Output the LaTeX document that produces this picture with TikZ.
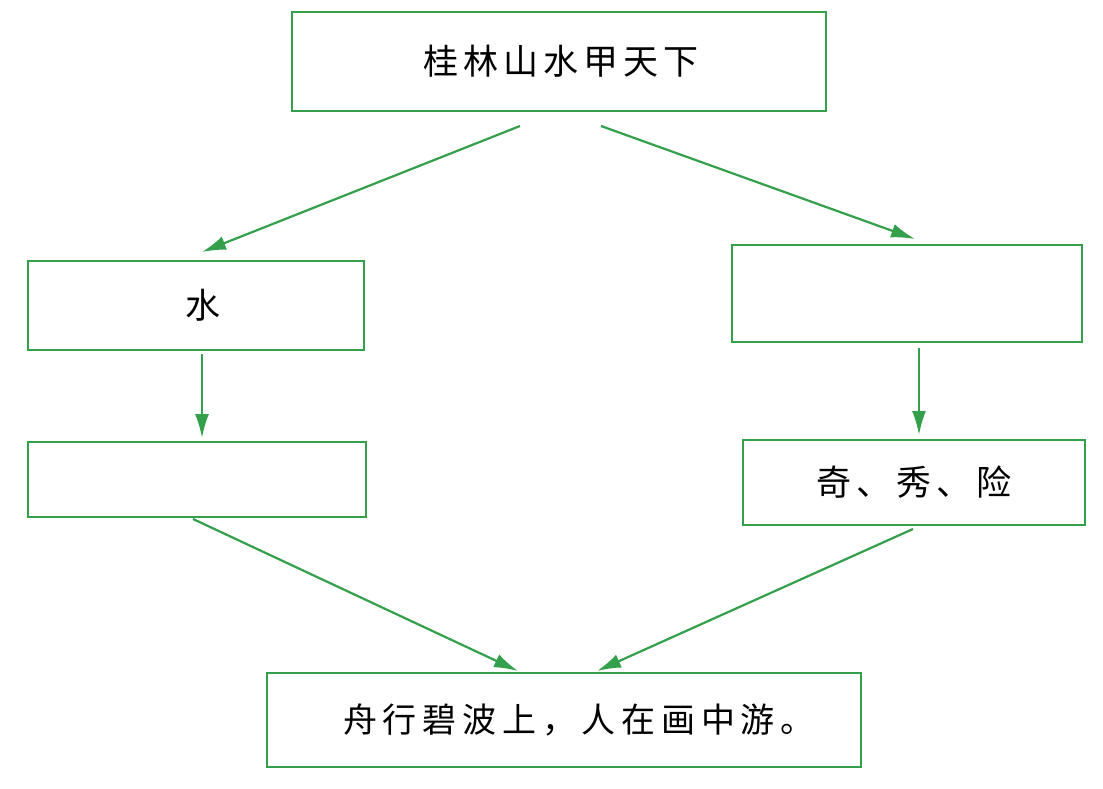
\documentclass[tikz,border=0pt]{standalone}
\usepackage{fontspec}
\newfontfamily\cjk{Noto Sans CJK SC}
\newfontfamily\cjkwide[LetterSpace=14]{Noto Sans CJK SC}
\newfontfamily\cjkwider[LetterSpace=17]{Noto Sans CJK SC}
\usetikzlibrary{arrows.meta}
\definecolor{lg}{RGB}{52,160,76}
\begin{document}
\begin{tikzpicture}[x=1pt,y=-1pt,
  box/.style={draw=lg,line width=2.8pt,inner sep=0pt,outer sep=0pt,rectangle,text=black},
  arr/.style={draw=lg,line width=2.2pt,-{Latex[length=24pt,width=14pt]}},
  big/.style={font=\cjkwide\fontsize{35}{35}\selectfont}]
\useasboundingbox[fill=white] (0,0) rectangle (1103,789);
\node[box,big,minimum width=534pt,minimum height=99pt] (top) at (559,61.5) {\hspace*{4pt}桂林山水甲天下};
\node[box,minimum width=336pt,minimum height=89pt,font=\cjk\fontsize{35}{35}\selectfont] (l1) at (196,305.5) {\hspace*{14pt}水};
\node[box,minimum width=350pt,minimum height=97pt] (r1) at (907,293.5) {};
\node[box,minimum width=338pt,minimum height=75pt] (l2) at (197,479.5) {};
\node[box,big,minimum width=342pt,minimum height=85pt] (r2) at (914,482.5) {奇、秀、险};
\node[box,minimum width=594pt,minimum height=94pt,font=\cjkwider\fontsize{34}{34}\selectfont] (bot) at (564,720) {\hspace*{30pt}舟行碧波上，人在画中游。};
\coordinate (a1s) at (520,126); \coordinate (a1e) at (202,252);
\coordinate (a2s) at (601,126); \coordinate (a2e) at (915,239);
\coordinate (a3s) at (202,354); \coordinate (a3e) at (202,438);
\coordinate (a4s) at (919,348); \coordinate (a4e) at (919,435);
\coordinate (a5s) at (193,519); \coordinate (a5e) at (518,671);
\coordinate (a6s) at (913,529); \coordinate (a6e) at (597,671);
\draw[arr] (a1s) -- (a1e);
\draw[arr] (a2s) -- (a2e);
\draw[arr] (a3s) -- (a3e);
\draw[arr] (a4s) -- (a4e);
\draw[arr] (a5s) -- (a5e);
\draw[arr] (a6s) -- (a6e);
\end{tikzpicture}
\end{document}
